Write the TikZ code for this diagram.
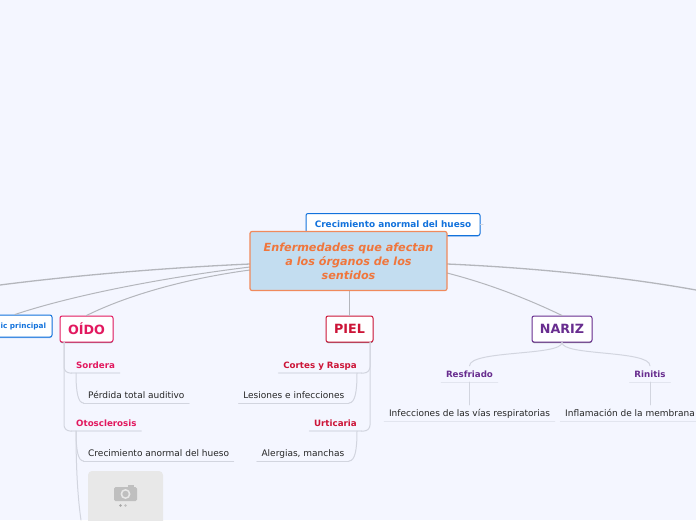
\documentclass[tikz,border=0pt]{standalone}
\usepackage{fontspec}
\setmainfont{DejaVu Sans}
\usetikzlibrary{shadows}
\definecolor{paper}{HTML}{F4F6FF}
\definecolor{mainfill}{HTML}{C3DDF0}
\definecolor{mainedge}{HTML}{F08A5C}
\definecolor{maintext}{HTML}{F0763C}
\definecolor{bluetext}{HTML}{1272DC}
\definecolor{oidotext}{HTML}{E2195F}
\definecolor{pieltext}{HTML}{CC1437}
\definecolor{naritext}{HTML}{682D8F}
\definecolor{bigline}{HTML}{B4B6BC}
\definecolor{smallline}{HTML}{D2D5DF}
\definecolor{underline}{HTML}{E2E5EF}
\tikzset{
  topicbox/.style={draw,line width=1pt,fill=white,rounded corners=2pt,
    inner sep=0pt,
    drop shadow={shadow xshift=0pt,shadow yshift=-1pt,opacity=.45,fill=#1}},
  headbox/.style={topicbox=black,font=\fontsize{12.7}{14}\selectfont\bfseries,
    minimum height=26pt},
  smallbox/.style={topicbox=bluetext,draw=bluetext,text=bluetext,
    font=\fontsize{8.9}{10}\selectfont\bfseries,minimum height=22pt},
  sublabel/.style={font=\fontsize{8.7}{10}\selectfont\bfseries,inner xsep=4.5pt,
    text height=8pt,text depth=1pt,minimum height=16pt,inner ysep=0pt},
  leaf/.style={font=\fontsize{9}{10}\selectfont,text=black!85,inner xsep=4.5pt,
    text height=8pt,text depth=1pt,minimum height=16pt,inner ysep=0pt},
  bigconn/.style={draw=bigline,line width=1pt},
  smallconn/.style={draw=smallline,line width=1pt},
  underl/.style={draw=underline,line width=1.3pt}
}
\begin{document}
\begin{tikzpicture}[x=1pt,y=-1pt,line cap=round,line join=round]
\useasboundingbox (0,0) rectangle (696,520);
\fill[paper] (0,0) rectangle (696,520);
\coordinate (leftend) at (0,285);
\coordinate (rightend) at (696,290);
\coordinate (stillend) at (81,520);
\node[smallbox,minimum width=174pt] (hueso) at (393,224.5) {Crecimiento anormal del hueso};
\coordinate (huesoend) at (483,224.5);
\draw[smallconn] (hueso.east) -- (huesoend);
\node[smallbox,minimum width=80pt,text width=68pt,align=right,
  font=\fontsize{7.3}{9}\selectfont\bfseries] (tema) at (12,326) {ic principal};
\node[headbox,draw=oidotext,text=oidotext,minimum width=53pt] (oido) at (86.5,329) {OÍDO};
\node[headbox,draw=pieltext,text=pieltext,minimum width=47pt] (piel) at (349.5,329) {PIEL};
\node[headbox,draw=naritext,text=naritext,minimum width=60pt] (nariz) at (562,329) {NARIZ};
\draw[bigconn,line width=1.3pt] (250,264) .. controls (160,268) and (70,276) .. (leftend);
\draw[bigconn] (250,267) .. controls (160,278) and (70,296) .. (tema.north east -| 15,316);
\draw[bigconn] (250,270) .. controls (190,278) and (130,294) .. (oido.north);
\draw[bigconn,line width=1.3pt] (447,264) .. controls (540,268) and (630,278) .. (rightend);
\draw[bigconn] (447,273) .. controls (490,284) and (530,300) .. (nariz.north);
\draw[bigconn] (349.5,290) -- (piel.north);
\node[draw=mainedge,line width=1.2pt,fill=mainfill,rounded corners=2pt,
  minimum width=197pt,minimum height=59pt,inner sep=0pt,align=center,text=maintext,
  font=\fontsize{11.2}{14}\selectfont\bfseries\itshape] (main) at (348.5,261)
  {Enfermedades que afectan\\a los órganos de los\\sentidos};
% oido
\node[sublabel,text=oidotext,anchor=south west] (sordera) at (71.5,373) {Sordera};
\node[leaf,anchor=south west] (perdida) at (83.5,403) {Pérdida total auditivo};
\node[sublabel,text=oidotext,anchor=south west] (otos) at (71.5,431) {Otosclerosis};
\node[leaf,anchor=south west] (crec) at (83.5,461) {Crecimiento anormal del hueso};
\draw[underl] (sordera.south west) -- (sordera.south east);
\draw[underl] (otos.south west) -- (otos.south east);
\draw[smallconn] (perdida.south west) -- (perdida.south east);
\draw[smallconn] (crec.south west) -- (crec.south east);
\draw[smallconn,rounded corners=6pt] (64,342) |- (sordera.south west);
\draw[smallconn,rounded corners=6pt] (64,342) |- (otos.south west);
\draw[smallconn] (76,373) .. controls (76,392) and (78,403) .. (perdida.south west);
\draw[smallconn] (76,431) .. controls (76,450) and (78,461) .. (crec.south west);
\draw[smallconn] (76,431) .. controls (76,470) and (78,500) .. (stillend);
\node[fill=black!9,rounded corners=4pt,minimum width=75pt,minimum height=70pt,inner sep=0pt]
  (photo) at (125.5,506) {};
\fill[black!25,rounded corners=1.5pt] (114,487) rectangle (137,501);
\fill[black!25] (128,485) rectangle (134,487);
\fill[black!9] (125.5,494) circle[radius=5];
\fill[black!25] (125.5,494) circle[radius=3.2];
\fill[black!35] (120.5,505.5) circle[radius=1.4];
\fill[black!25] (125.5,505.5) circle[radius=1.4];
% piel
\node[sublabel,text=pieltext,anchor=south east] (cortes) at (361.5,373) {Cortes y Raspa};
\node[leaf,anchor=south east] (lesion) at (349,403) {Lesiones e infecciones};
\node[sublabel,text=pieltext,anchor=south east] (urtic) at (361.5,431) {Urticaria};
\node[leaf,anchor=south east] (alerg) at (349,461) {Alergias, manchas};
\draw[underl] (cortes.south west) -- (cortes.south east);
\draw[underl] (urtic.south west) -- (urtic.south east);
\draw[smallconn] (lesion.south west) -- (lesion.south east);
\draw[smallconn] (alerg.south west) -- (alerg.south east);
\draw[smallconn,rounded corners=6pt] (370,342) |- (cortes.south east);
\draw[smallconn,rounded corners=6pt] (370,342) |- (urtic.south east);
\draw[smallconn] (357,373) .. controls (357,392) and (355,403) .. (lesion.south east);
\draw[smallconn] (357,431) .. controls (357,450) and (355,461) .. (alerg.south east);
% nariz
\node[sublabel,text=naritext] (resfr) at (469.5,374) {Resfriado};
\node[sublabel,text=naritext] (rinit) at (650,374) {Rinitis};
\node[leaf] (infec) at (469.5,413) {Infecciones de las vías respiratorias};
\node[leaf] (infla) at (630,413) {Inflamación de la membrana};
\draw[underl] (resfr.south west) -- (resfr.south east);
\draw[underl] (rinit.south west) -- (rinit.south east);
\draw[underl] (infec.south west) -- (infec.south east);
\draw[underl] (infla.south west) -- (infla.south east);
\draw[smallconn] (nariz.south) .. controls (562,356) and (470,350) .. (resfr.north);
\draw[smallconn] (nariz.south) .. controls (562,356) and (650,350) .. (rinit.north);
\draw[smallconn] (resfr.south) -- (infec.north);
\draw[smallconn] (rinit.south) -- (rinit.south |- infla.north);
\end{tikzpicture}
\end{document}
